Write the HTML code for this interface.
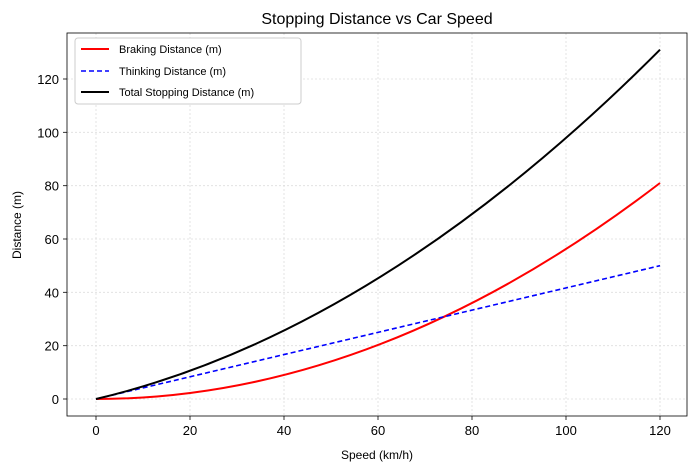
<!DOCTYPE html>
<html><head><style>body{margin:0;background:#fff}svg{display:block;font-family:"Liberation Sans",sans-serif}</style></head>
<body>
<svg width="697" height="473" xmlns="http://www.w3.org/2000/svg">
<rect width="697" height="473" fill="#fff"/>
<g stroke="#ddd" stroke-width="0.8" stroke-dasharray="2,2">
<line x1="96" y1="33" x2="96" y2="416"/><line x1="190" y1="33" x2="190" y2="416"/><line x1="284" y1="33" x2="284" y2="416"/><line x1="378" y1="33" x2="378" y2="416"/><line x1="472" y1="33" x2="472" y2="416"/><line x1="566" y1="33" x2="566" y2="416"/><line x1="660" y1="33" x2="660" y2="416"/>
<line x1="67" y1="399" x2="687" y2="399"/><line x1="67" y1="345.7" x2="687" y2="345.7"/><line x1="67" y1="292.3" x2="687" y2="292.3"/><line x1="67" y1="239" x2="687" y2="239"/><line x1="67" y1="185.7" x2="687" y2="185.7"/><line x1="67" y1="132.3" x2="687" y2="132.3"/><line x1="67" y1="79" x2="687" y2="79"/>
</g>
<g stroke="#000" stroke-width="0.8">
<line x1="96" y1="416" x2="96" y2="420"/><line x1="190" y1="416" x2="190" y2="420"/><line x1="284" y1="416" x2="284" y2="420"/><line x1="378" y1="416" x2="378" y2="420"/><line x1="472" y1="416" x2="472" y2="420"/><line x1="566" y1="416" x2="566" y2="420"/><line x1="660" y1="416" x2="660" y2="420"/>
<line x1="63" y1="399" x2="67" y2="399"/><line x1="63" y1="345.7" x2="67" y2="345.7"/><line x1="63" y1="292.3" x2="67" y2="292.3"/><line x1="63" y1="239" x2="67" y2="239"/><line x1="63" y1="185.7" x2="67" y2="185.7"/><line x1="63" y1="132.3" x2="67" y2="132.3"/><line x1="63" y1="79" x2="67" y2="79"/>
</g>
<g font-size="13" text-anchor="middle" fill="#000">
<text x="96" y="435">0</text><text x="190" y="435">20</text><text x="284" y="435">40</text><text x="378" y="435">60</text><text x="472" y="435">80</text><text x="566" y="435">100</text><text x="660" y="435">120</text>
</g>
<g font-size="13" text-anchor="end" fill="#000">
<text x="59" y="404">0</text><text x="59" y="350.7">20</text><text x="59" y="297.3">40</text><text x="59" y="244">60</text><text x="59" y="190.7">80</text><text x="59" y="137.3">100</text><text x="59" y="84">120</text>
</g>
<text x="377" y="459" font-size="12" text-anchor="middle">Speed (km/h)</text>
<text transform="translate(21,225) rotate(-90)" font-size="12" text-anchor="middle">Distance (m)</text>
<text x="377" y="24" font-size="16" text-anchor="middle">Stopping Distance vs Car Speed</text>
<path fill="none" stroke="red" stroke-width="2" d="M96,399 Q378,399 660,183"/>
<line x1="96" y1="399" x2="660" y2="265.7" stroke="blue" stroke-width="1.6" stroke-dasharray="5,3"/>
<path fill="none" stroke="#000" stroke-width="2" d="M96,399 Q378,332.3 660,49.7"/>
<rect x="67" y="33" width="620" height="383" fill="none" stroke="#000" stroke-width="0.8"/>
<rect x="75" y="38" width="226" height="66" fill="#fff" stroke="#ccc" rx="3"/>
<line x1="81" y1="49" x2="109" y2="49" stroke="red" stroke-width="2"/>
<line x1="81" y1="71" x2="109" y2="71" stroke="blue" stroke-width="1.6" stroke-dasharray="5,3"/>
<line x1="81" y1="92" x2="109" y2="92" stroke="#000" stroke-width="2"/>
<g font-size="11"><text x="119" y="53">Braking Distance (m)</text><text x="119" y="75">Thinking Distance (m)</text><text x="119" y="96">Total Stopping Distance (m)</text></g>
</svg>
</body></html>
